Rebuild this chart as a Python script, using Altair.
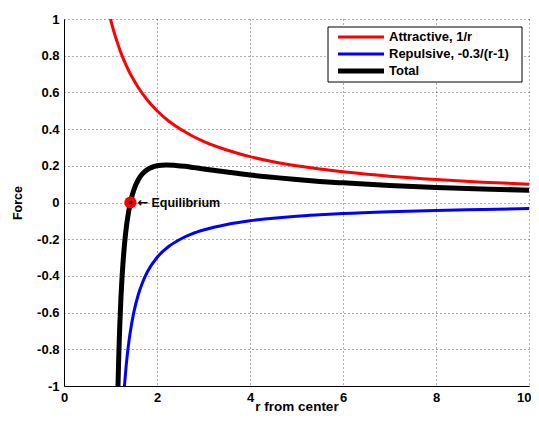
import altair as alt
import pandas as pd

series_names = ["Attractive, 1/r", "Repulsive, -0.3/(r-1)", "Total"]
series_colors = ["#ff0000", "#0000ff", "#000000"]

r_attr = [1.0, 1.05, 1.1, 1.15, 1.2, 1.3, 1.4, 1.5, 1.6, 1.8, 2.0, 2.25, 2.5, 2.75, 3.0, 3.5, 4.0, 4.5, 5.0, 5.5, 6.0, 7.0, 8.0, 9.0, 10.0]
f_attr = [1.000, 0.952, 0.909, 0.870, 0.833, 0.769, 0.714, 0.667, 0.625, 0.556, 0.500, 0.444, 0.400, 0.364, 0.333, 0.286, 0.250, 0.222, 0.200, 0.182, 0.167, 0.143, 0.125, 0.111, 0.100]

r_rep = [1.3, 1.33, 1.36, 1.4, 1.45, 1.5, 1.6, 1.7, 1.8, 2.0, 2.25, 2.5, 2.75, 3.0, 3.5, 4.0, 4.5, 5.0, 5.5, 6.0, 7.0, 8.0, 9.0, 10.0]
f_rep = [-1.000, -0.909, -0.833, -0.750, -0.667, -0.600, -0.500, -0.429, -0.375, -0.300, -0.240, -0.200, -0.171, -0.150, -0.120, -0.100, -0.086, -0.075, -0.067, -0.060, -0.050, -0.043, -0.038, -0.033]

r_tot = [1.16, 1.17, 1.18, 1.19, 1.2, 1.225, 1.25, 1.275, 1.3, 1.35, 1.4, 1.45, 1.5, 1.6, 1.7, 1.8, 1.9, 2.0, 2.2, 2.4, 2.6, 2.8, 3.0, 3.5, 4.0, 4.5, 5.0, 5.5, 6.0, 7.0, 8.0, 9.0, 10.0]
f_tot = [-1.013, -0.910, -0.819, -0.739, -0.667, -0.517, -0.400, -0.307, -0.231, -0.116, -0.036, 0.023, 0.067, 0.125, 0.160, 0.181, 0.193, 0.200, 0.205, 0.202, 0.197, 0.190, 0.183, 0.166, 0.150, 0.137, 0.125, 0.115, 0.107, 0.093, 0.082, 0.074, 0.067]

eq_r = [1.4286]
eq_f = [0.0]
eq_label = ["Equilibrium"]

x_ticks = [0, 2, 4, 6, 8, 10]
y_ticks = [-1, -0.8, -0.6, -0.4, -0.2, 0, 0.2, 0.4, 0.6, 0.8, 1]

rows = []
for name, rs, fs in zip(series_names, [r_attr, r_rep, r_tot], [f_attr, f_rep, f_tot]):
    for i, (r, f) in enumerate(zip(rs, fs)):
        rows.append({"series": name, "r": r, "f": f, "order": i})
df = pd.DataFrame(rows)
eq = pd.DataFrame({"r": eq_r, "f": eq_f, "label": eq_label, "arrow": ["\u2190"]})
leg = pd.DataFrame({"series": series_names})

FONT = "Liberation Sans"

xs = alt.Scale(domain=[0, 10], nice=False, zero=False)
ys = alt.Scale(domain=[-1, 1], nice=False, zero=False)
cscale = alt.Scale(domain=series_names, range=series_colors)
sw = alt.condition(alt.datum.series == "Total", alt.value(5), alt.value(3))

xaxis = alt.Axis(values=x_ticks, title="r from center", grid=True, ticks=False,
                 labelPadding=5, labelFlush=False, labelOverlap=False,
                 labelAlign=alt.condition("datum.value == 10", alt.value("right"), alt.value("center")),
                 labelOffset=alt.condition("datum.value == 10", alt.value(2), alt.value(0)),
                 titleFontSize=13.5, titleBaseline="alphabetic", titleY=24)
yaxis = alt.Axis(values=y_ticks, title="Force", grid=True, ticks=False,
                 labelPadding=5, titlePadding=12, labelOverlap=False, titleFontSize=12.5,
                 labelExpr="datum.value == 0 ? '0' : toString(round(datum.value*10)/10)")

ex = alt.X("r:Q", scale=xs, axis=xaxis)
ey = alt.Y("f:Q", scale=ys, axis=yaxis)

lines = alt.Chart(df).mark_line(clip=True, interpolate="monotone").encode(
    x=ex, y=ey,
    color=alt.Color("series:N", scale=cscale, legend=None),
    strokeWidth=sw,
    detail="series:N",
    order="order:Q",
)

ring = alt.Chart(eq).mark_point(shape="circle", filled=True, color="#ff0000", size=150, opacity=1).encode(
    x=ex, y=ey)
dot = alt.Chart(eq).mark_point(shape="circle", filled=True, color="#000000", size=14, opacity=1).encode(
    x=ex, y=ey)
arrow = alt.Chart(eq).mark_text(align="left", baseline="middle", dx=7, font="DejaVu Sans", fontSize=13,
                                fontWeight="bold", color="black").encode(
    x=ex, y=ey, text="arrow:N")
label = alt.Chart(eq).mark_text(align="left", baseline="middle", dx=21, font=FONT, fontSize=12.5,
                                fontWeight="bold", color="black").encode(
    x=ex, y=ey, text="label:N")

plot = alt.layer(lines, ring, dot, arrow, label)

# legend box (pixel layout inside the plot area)
box = alt.Chart(pd.DataFrame({"a": [0]})).mark_rect(fill="white", stroke="black", strokeWidth=1).encode(
    x=alt.value(264), x2=alt.value(458), y=alt.value(8), y2=alt.value(63))
ly = alt.Y("series:N", scale=alt.Scale(type="point", domain=series_names, range=[18, 52], padding=0), axis=None)
leg_lines = alt.Chart(leg).mark_rule().encode(
    x=alt.value(274), x2=alt.value(320), y=ly,
    color=alt.Color("series:N", scale=cscale, legend=None),
    strokeWidth=sw)
leg_text = alt.Chart(leg).mark_text(align="left", baseline="middle", font=FONT, fontSize=13,
                                    fontWeight="bold", color="black").encode(
    x=alt.value(325), y=ly, text="series:N")
legend = alt.layer(leg_lines, leg_text)

chart = alt.layer(plot, box, legend).resolve_scale(
    y="independent"
).properties(
    width=465, height=367,
    autosize=alt.AutoSizeParams(type="none"),
    padding={"left": 56, "top": 11, "right": 2, "bottom": 28},
).configure_view(stroke=None).configure_axis(
    labelFont=FONT, labelFontSize=13, labelFontWeight="bold", labelColor="black",
    titleFont=FONT, titleFontSize=12, titleFontWeight="bold", titleColor="black",
    domainColor="black", domainWidth=1, labelOverlap=False,
    gridColor="#333333", gridDash=[1, 3], gridWidth=1, gridOpacity=0.8,
)

chart.save("out.html", embed_options={"renderer": "svg", "actions": False})
